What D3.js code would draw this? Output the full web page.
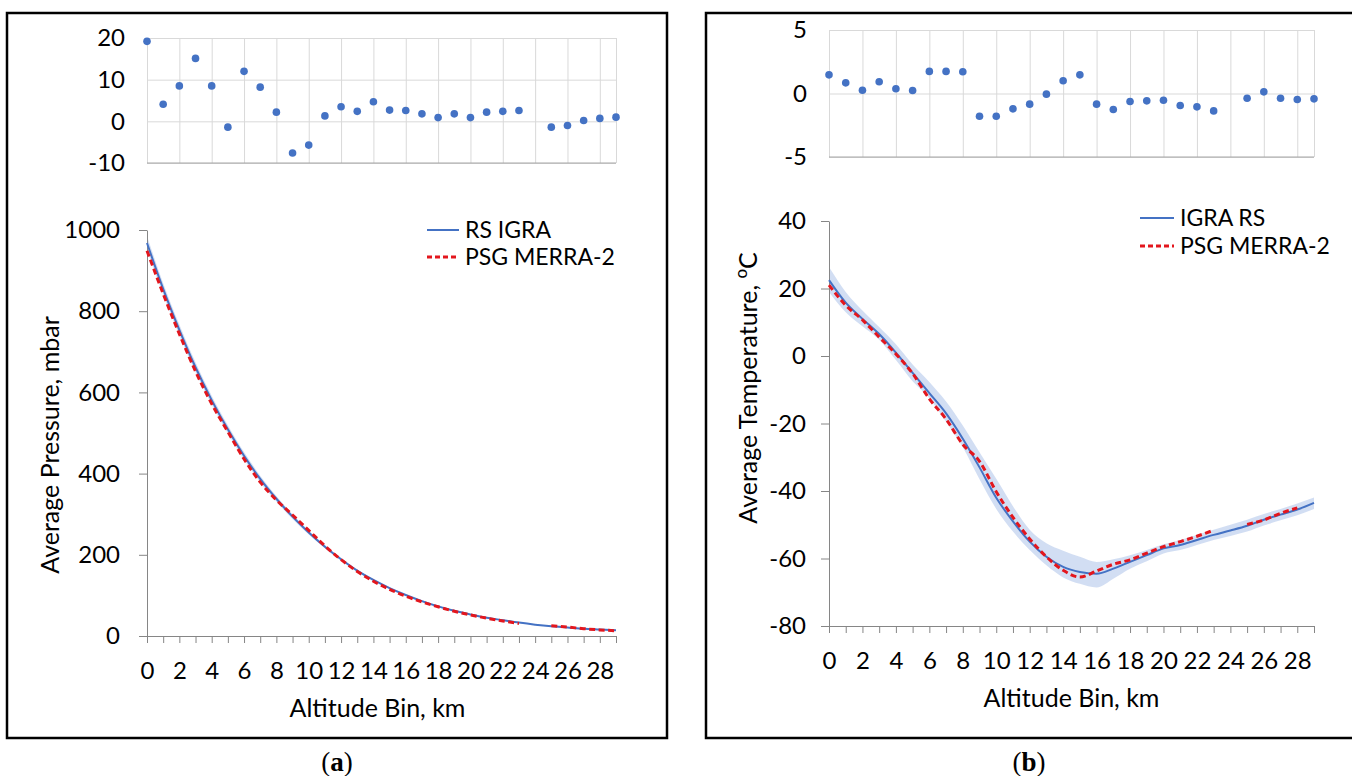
<!DOCTYPE html>
<html>
<head>
<meta charset="utf-8">
<script src="https://cdn.jsdelivr.net/npm/d3@7"></script>
<style>
  body { margin: 0; background: #fff; }
  text { font-family: Lato, "Noto Sans", sans-serif; fill: #000; }
</style>
</head>
<body>
<svg id="chart" width="1352" height="776"></svg>
<script>
// Altitude bins (km) and tick labels
const bins = [0, 1, 2, 3, 4, 5, 6, 7, 8, 9, 10, 11, 12, 13, 14, 15, 16, 17, 18, 19, 20, 21, 22, 23, 24, 25, 26, 27, 28, 29];
const binLabels = [0, 2, 4, 6, 8, 10, 12, 14, 16, 18, 20, 22, 24, 26, 28];
const pressureTicks = [0, 200, 400, 600, 800, 1000];
const tempTicks = [-80, -60, -40, -20, 0, 20, 40];
const pDiffTicks = [-10, 0, 10, 20];
const tDiffTicks = [-5, 0, 5];

// (a) pressure, mbar
const pressureRS = [968, 855, 754, 662, 581, 509, 444, 387, 338, 294, 255, 220, 189, 161, 138, 118, 101, 86, 73, 62, 53, 45, 39, 33, 28, 24, 21, 18, 16, 14];
const pressurePSG = [949, 843, 744, 652, 572, 503, 436, 379, 335, 298, 260, 222, 188, 159, 135, 115, 98, 84, 72, 61, 52, 44, 37, 31, null, 25, 22, 18, 15, 13];
const pressureUpper = [985, 869, 767, 674, 592, 519, 453, 395, 345, 300, 260, 224, 192, 164, 140, 120, 103, 88, 75, 63, 54, 46, 40, 34, 29, 25, 22, 19, 17, 15];
const pressureLower = [951, 841, 741, 650, 570, 499, 435, 379, 331, 288, 250, 216, 186, 158, 136, 116, 99, 84, 71, 61, 52, 44, 38, 32, 27, 23, 20, 17, 15, 13];
const pressureDiff = [19.2, 4.1, 8.5, 15.1, 8.5, -1.4, 12.0, 8.2, 2.2, -7.6, -5.7, 1.3, 3.5, 2.4, 4.7, 2.7, 2.6, 1.8, 0.9, 1.8, 0.9, 2.2, 2.4, 2.6, null, -1.4, -1.0, 0.2, 0.7, 1.0];

// (b) temperature, °C
const tempRS = [22.5, 15.8, 11.0, 6.5, 1.0, -5.0, -11.0, -17.0, -24.5, -33.0, -42.0, -49.0, -55.0, -59.5, -62.5, -64.0, -64.5, -63.0, -61.0, -59.0, -57.0, -56.0, -54.5, -53.0, -51.7, -50.3, -48.5, -47.0, -45.5, -43.5];
const tempPSG = [21.0, 15.0, 10.7, 5.6, 0.6, -5.2, -12.7, -18.7, -26.2, -31.2, -40.2, -47.8, -54.2, -59.5, -63.5, -65.5, -63.7, -61.7, -60.4, -58.4, -56.5, -55.0, -53.4, -51.6, null, -49.9, -48.6, -46.6, -45.0, null];
const tempUpper = [26.4, 19.0, 13.5, 8.6, 3.5, -2.5, -7.7, -13.5, -20.6, -28.5, -36.4, -44.5, -51.5, -55.5, -57.7, -59.5, -61.0, -60.2, -59.0, -57.5, -55.8, -54.5, -53.0, -51.5, -50.0, -48.5, -46.8, -45.3, -43.7, -41.9];
const tempLower = [19.0, 13.0, 8.8, 4.8, -1.2, -7.5, -12.5, -19.5, -27.0, -36.5, -45.3, -52.0, -57.5, -62.0, -65.6, -67.5, -68.6, -66.0, -63.0, -60.8, -58.5, -57.5, -56.0, -54.5, -53.3, -52.0, -50.2, -48.7, -47.2, -45.3];
const tempDiff = [1.47, 0.84, 0.26, 0.92, 0.37, 0.24, 1.74, 1.74, 1.71, -1.79, -1.79, -1.21, -0.84, -0.05, 1.0, 1.47, -0.84, -1.26, -0.63, -0.58, -0.53, -0.95, -1.05, -1.37, null, -0.37, 0.13, -0.37, -0.47, -0.42];

const blue = "#4472c4";
const red = "#e3161d";
const axisGrey = "#868686";
const tickFont = 24;
const titleFont = 25;
const plain = d => String(d); // hyphen minus, no thousands comma

const svg = d3.select("#chart");
svg.append("rect").attr("width", 1352).attr("height", 776).attr("fill", "#fff");

// panel frames
[7, 706].forEach(x => {
  svg.append("rect")
    .attr("x", x).attr("y", 13)
    .attr("width", 660).attr("height", 725)
    .attr("fill", "none").attr("stroke", "#000").attr("stroke-width", 2.5);
});

function styleText(a) {
  a.selectAll("text").attr("font-size", tickFont).attr("fill", "#000")
    .style("font-family", "Lato, 'Noto Sans', sans-serif");
}

// small scatter of differences on top
function drawDiff(c) {
  const x = d3.scaleLinear().domain([0, 29]).range([c.left, c.right]);
  const y = d3.scaleLinear().domain([c.ticks[0], c.ticks[c.ticks.length - 1]]).range([c.bottom, c.top]);
  const g = svg.append("g");

  // vertical gridlines every 2 bins, plus right edge
  g.append("g")
    .attr("transform", `translate(0,${c.bottom})`)
    .call(d3.axisBottom(x).tickValues(binLabels.concat([29])).tickSize(-(c.bottom - c.top)).tickFormat(""))
    .call(a => a.select(".domain").remove())
    .call(a => a.selectAll("line").attr("stroke", "#d9d9d9"));

  // horizontal gridlines + labels
  g.append("g")
    .attr("transform", `translate(${c.left},0)`)
    .call(d3.axisLeft(y).tickValues(c.ticks).tickSize(-(c.right - c.left)).tickPadding(22).tickFormat(plain))
    .call(a => a.select(".domain").remove())
    .call(a => a.selectAll(".tick line").attr("stroke", "#d9d9d9"))
    .call(styleText);

  // base line
  g.append("line")
    .attr("x1", c.left).attr("x2", c.right)
    .attr("y1", c.bottom).attr("y2", c.bottom)
    .attr("stroke", "#a6a6a6");

  g.selectAll("circle")
    .data(bins.filter(b => c.values[b] != null))
    .enter().append("circle")
    .attr("cx", d => x(d))
    .attr("cy", d => y(c.values[d]))
    .attr("r", 3.8)
    .attr("fill", blue);
}

// main profile chart
function drawProfile(c) {
  const x = d3.scaleLinear().domain([0, 29]).range([c.left, c.right]);
  const y = d3.scaleLinear().domain([c.ticks[0], c.ticks[c.ticks.length - 1]]).range([c.bottom, c.top]);
  const g = svg.append("g");

  // spread band
  const band = d3.area()
    .x(d => x(d))
    .y0(d => y(c.lower[d]))
    .y1(d => y(c.upper[d]))
    .curve(d3.curveMonotoneX);
  g.append("path").datum(bins).attr("d", band).attr("fill", "#cad8f1").attr("opacity", 0.85);

  // y axis
  g.append("g")
    .attr("transform", `translate(${c.left},0)`)
    .call(d3.axisLeft(y).tickValues(c.ticks).tickSize(8).tickSizeOuter(0).tickPadding(c.yPad).tickFormat(plain))
    .call(a => a.select(".domain").attr("stroke", axisGrey))
    .call(a => a.selectAll(".tick line").attr("stroke", axisGrey))
    .call(styleText);

  // x axis
  g.append("g")
    .attr("transform", `translate(0,${c.bottom})`)
    .call(d3.axisBottom(x).tickValues(bins).tickSize(7).tickSizeOuter(0).tickPadding(19)
      .tickFormat(d => binLabels.includes(d) ? d : ""))
    .call(a => a.select(".domain").attr("stroke", axisGrey))
    .call(a => a.selectAll(".tick line").attr("stroke", axisGrey))
    .call(styleText);

  // lines
  const line = arr => d3.line()
    .defined(d => arr[d] != null)
    .x(d => x(d))
    .y(d => y(arr[d]))
    .curve(d3.curveMonotoneX);
  g.append("path").datum(bins).attr("d", line(c.rs))
    .attr("fill", "none").attr("stroke", blue).attr("stroke-width", 2);
  g.append("path").datum(bins).attr("d", line(c.psg))
    .attr("fill", "none").attr("stroke", red).attr("stroke-width", 3).attr("stroke-dasharray", "6,3.5");

  // axis titles
  g.append("text")
    .attr("x", (c.left + c.right) / 2 + c.xTitleShift).attr("y", c.bottom + 72)
    .attr("dy", "0.35em").attr("text-anchor", "middle").attr("font-size", titleFont)
    .text("Altitude Bin, km");
  const yt = g.append("text")
    .attr("transform", `translate(${c.yTitleX},${c.yTitleY}) rotate(-90)`)
    .attr("dy", "0.35em").attr("text-anchor", "middle").attr("font-size", titleFont)
    .text(c.yTitle);
  if (c.yTitleSup) {
    yt.append("tspan").attr("font-size", 17).attr("dy", "-0.6em").text(c.yTitleSup);
    yt.append("tspan").attr("dy", "0.4em").text("C");
  }

  // legend
  c.legend.forEach((name, i) => {
    const ly = c.legendY + i * c.legendGap;
    g.append("line")
      .attr("x1", c.legendX).attr("x2", c.legendX + c.legendLen)
      .attr("y1", ly).attr("y2", ly)
      .attr("stroke", i === 0 ? blue : red)
      .attr("stroke-width", i === 0 ? 2 : 3)
      .attr("stroke-dasharray", i === 0 ? null : "5,3");
    g.append("text")
      .attr("x", c.legendX + c.legendLen + 6).attr("y", ly)
      .attr("dy", "0.35em").attr("font-size", 23)
      .text(name);
  });
}

// (a)
drawDiff({ left: 147, right: 616, top: 38, bottom: 163, ticks: pDiffTicks, values: pressureDiff });
drawProfile({
  left: 147, right: 616, top: 230, bottom: 636, ticks: pressureTicks, yPad: 19,
  rs: pressureRS, psg: pressurePSG, upper: pressureUpper, lower: pressureLower,
  yTitle: "Average Pressure, mbar", yTitleX: 50, yTitleY: 445, xTitleShift: -4,
  legend: ["RS IGRA", "PSG MERRA-2"], legendX: 427, legendY: 230, legendGap: 27, legendLen: 32
});

// (b)
drawDiff({ left: 829, right: 1314, top: 30, bottom: 157, ticks: tDiffTicks, values: tempDiff });
drawProfile({
  left: 829, right: 1314, top: 221, bottom: 626, ticks: tempTicks, yPad: 15,
  rs: tempRS, psg: tempPSG, upper: tempUpper, lower: tempLower,
  yTitle: "Average Temperature, ", yTitleSup: "o", yTitleX: 748, yTitleY: 388, xTitleShift: 0,
  legend: ["IGRA RS", "PSG MERRA-2"], legendX: 1140, legendY: 218, legendGap: 28, legendLen: 34
});

// panel captions
[["a", 337], ["b", 1029]].forEach(([k, cx]) => {
  const t = svg.append("text")
    .attr("x", cx).attr("y", 771).attr("text-anchor", "middle")
    .attr("font-size", 27).style("font-family", "'Liberation Serif', 'DejaVu Serif', serif");
  t.append("tspan").text("(");
  t.append("tspan").attr("font-weight", "bold").text(k);
  t.append("tspan").text(")");
});
</script>
</body>
</html>
